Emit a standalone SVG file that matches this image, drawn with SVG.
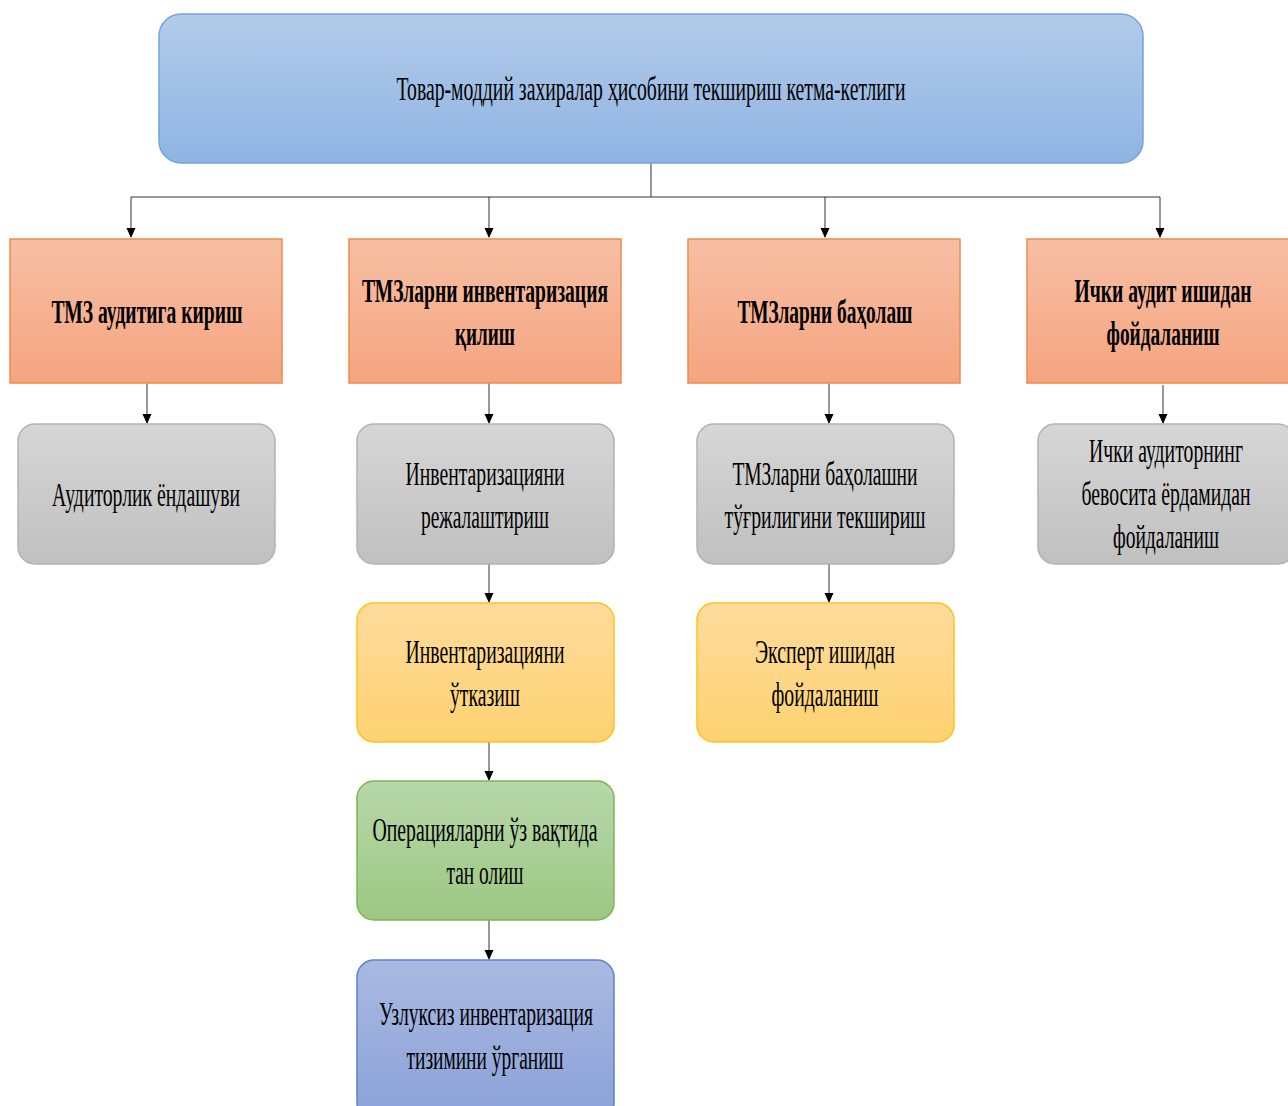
<svg xmlns="http://www.w3.org/2000/svg" width="1288" height="1106" viewBox="0 0 1288 1106">
<defs>
<linearGradient id="gBlue" x1="0" y1="0" x2="0" y2="1"><stop offset="0" stop-color="#b2cbe9"/><stop offset="1" stop-color="#8fb4e3"/></linearGradient>
<linearGradient id="gOrange" x1="0" y1="0" x2="0" y2="1"><stop offset="0" stop-color="#f7bfa4"/><stop offset="1" stop-color="#f5a480"/></linearGradient>
<linearGradient id="gGrey" x1="0" y1="0" x2="0" y2="1"><stop offset="0" stop-color="#d6d6d6"/><stop offset="1" stop-color="#c0c0c0"/></linearGradient>
<linearGradient id="gYellow" x1="0" y1="0" x2="0" y2="1"><stop offset="0" stop-color="#fedb9d"/><stop offset="1" stop-color="#fed271"/></linearGradient>
<linearGradient id="gGreen" x1="0" y1="0" x2="0" y2="1"><stop offset="0" stop-color="#b7d7a9"/><stop offset="1" stop-color="#9cc883"/></linearGradient>
<linearGradient id="gIndigo" x1="0" y1="0" x2="0" y2="1"><stop offset="0" stop-color="#aab9e1"/><stop offset="1" stop-color="#8aa1d8"/></linearGradient>
<marker id="arr" markerWidth="10" markerHeight="14" refX="9" refY="4.5" orient="auto" markerUnits="userSpaceOnUse" viewBox="0 0 10 9">
<path d="M0,0 L10,4.5 L0,9 Z" fill="#000"/>
</marker>
</defs>
<style>
text{font-family:"Liberation Serif","Times New Roman",serif;font-size:33px;fill:#000;text-anchor:middle}
.b{font-weight:bold}
.con{stroke:#333;stroke-width:1;fill:none}
.arrow{stroke:#333;stroke-width:1;fill:none;marker-end:url(#arr)}
.blue{fill:url(#gBlue);stroke:#74a4da;stroke-width:1.5}
.orange{fill:url(#gOrange);stroke:#ef8a4a;stroke-width:1.5}
.grey{fill:url(#gGrey);stroke:#b3b3b3;stroke-width:1.5}
.yellow{fill:url(#gYellow);stroke:#ffc21a;stroke-width:1.5}
.green{fill:url(#gGreen);stroke:#7db55a;stroke-width:1.5}
.indigo{fill:url(#gIndigo);stroke:#5b82c9;stroke-width:1.5}
</style>
<rect width="1288" height="1106" fill="#fff"/>
<g id="connectors">
<path class="con" d="M651,163 V197 M131,197 H1160"/>
<path class="arrow" d="M131,197 V237"/>
<path class="arrow" d="M489,197 V237"/>
<path class="arrow" d="M825,197 V237"/>
<path class="arrow" d="M1160,197 V237"/>
<path class="arrow" d="M147,383 V423"/>
<path class="arrow" d="M489,383 V423"/>
<path class="arrow" d="M829,383 V423"/>
<path class="arrow" d="M1163,385 V423"/>
<path class="arrow" d="M489,564 V602"/>
<path class="arrow" d="M829,564 V602"/>
<path class="arrow" d="M489,742 V780"/>
<path class="arrow" d="M489,920 V959"/>
</g>
<g id="n-title">
<rect class="blue" x="159" y="14" width="984" height="149" rx="22"/>
<text x="651" y="100" textLength="509" lengthAdjust="spacingAndGlyphs">Товар-моддий захиралар  ҳисобини текшириш кетма-кетлиги</text>
</g>
<g id="n-audit-entry">
<rect class="orange" x="10" y="239" width="272" height="144"/>
<text class="b" x="147" y="323" textLength="191" lengthAdjust="spacingAndGlyphs">ТМЗ аудитига кириш</text>
</g>
<g id="n-inventory">
<rect class="orange" x="349" y="239" width="272" height="144"/>
<text class="b" x="485" y="302" textLength="246" lengthAdjust="spacingAndGlyphs">ТМЗларни инвентаризация</text>
<text class="b" x="485" y="345" textLength="60" lengthAdjust="spacingAndGlyphs">қилиш</text>
</g>
<g id="n-valuation">
<rect class="orange" x="688" y="239" width="272" height="144"/>
<text class="b" x="825" y="323" textLength="175" lengthAdjust="spacingAndGlyphs">ТМЗларни баҳолаш</text>
</g>
<g id="n-internal-audit">
<rect class="orange" x="1027" y="239" width="272" height="144"/>
<g transform="translate(1163,0) scale(0.62,1)">
<text class="b" x="0" y="302" textLength="285.5" lengthAdjust="spacingAndGlyphs">Ички аудит ишидан</text>
<text class="b" x="0" y="345" textLength="182.3" lengthAdjust="spacingAndGlyphs">фойдаланиш</text>
</g>
</g>
<g id="n-approach">
<rect class="grey" x="18" y="424" width="257" height="140" rx="17"/>
<text x="146" y="506" textLength="188" lengthAdjust="spacingAndGlyphs">Аудиторлик ёндашуви</text>
</g>
<g id="n-planning">
<rect class="grey" x="357" y="424" width="257" height="140" rx="17"/>
<text x="485" y="485" textLength="159" lengthAdjust="spacingAndGlyphs">Инвентаризацияни</text>
<text x="485" y="528" textLength="128" lengthAdjust="spacingAndGlyphs">режалаштириш</text>
</g>
<g id="n-check-valuation">
<rect class="grey" x="697" y="424" width="257" height="140" rx="17"/>
<text x="825" y="485" textLength="185" lengthAdjust="spacingAndGlyphs">ТМЗларни баҳолашни</text>
<text x="825" y="528" textLength="201" lengthAdjust="spacingAndGlyphs">тўғрилигини текшириш</text>
</g>
<g id="n-auditor-help">
<rect class="grey" x="1038" y="424" width="257" height="140" rx="17"/>
<g transform="translate(1166,0) scale(0.62,1)">
<text x="0" y="462" textLength="248.4" lengthAdjust="spacingAndGlyphs">Ички аудиторнинг</text>
<text x="0" y="505" textLength="272.6" lengthAdjust="spacingAndGlyphs">бевосита ёрдамидан</text>
<text x="0" y="548" textLength="171" lengthAdjust="spacingAndGlyphs">фойдаланиш</text>
</g>
</g>
<g id="n-conduct">
<rect class="yellow" x="357" y="603" width="257" height="139" rx="17"/>
<text x="485" y="663" textLength="159" lengthAdjust="spacingAndGlyphs">Инвентаризацияни</text>
<text x="485" y="706" textLength="70" lengthAdjust="spacingAndGlyphs">ўтказиш</text>
</g>
<g id="n-expert">
<rect class="yellow" x="697" y="603" width="257" height="139" rx="17"/>
<text x="825" y="663" textLength="140" lengthAdjust="spacingAndGlyphs">Эксперт ишидан</text>
<text x="825" y="706" textLength="107" lengthAdjust="spacingAndGlyphs">фойдаланиш</text>
</g>
<g id="n-recognition">
<rect class="green" x="357" y="781" width="257" height="139" rx="17"/>
<text x="485" y="841" textLength="225" lengthAdjust="spacingAndGlyphs">Операцияларни ўз вақтида</text>
<text x="485" y="884" textLength="77" lengthAdjust="spacingAndGlyphs">тан олиш</text>
</g>
<g id="n-continuous">
<rect class="indigo" x="357" y="960" width="257" height="160" rx="17"/>
<text x="486" y="1025" textLength="214" lengthAdjust="spacingAndGlyphs">Узлуксиз  инвентаризация</text>
<text x="485" y="1069" textLength="157" lengthAdjust="spacingAndGlyphs">тизимини ўрганиш</text>
</g>
</svg>
